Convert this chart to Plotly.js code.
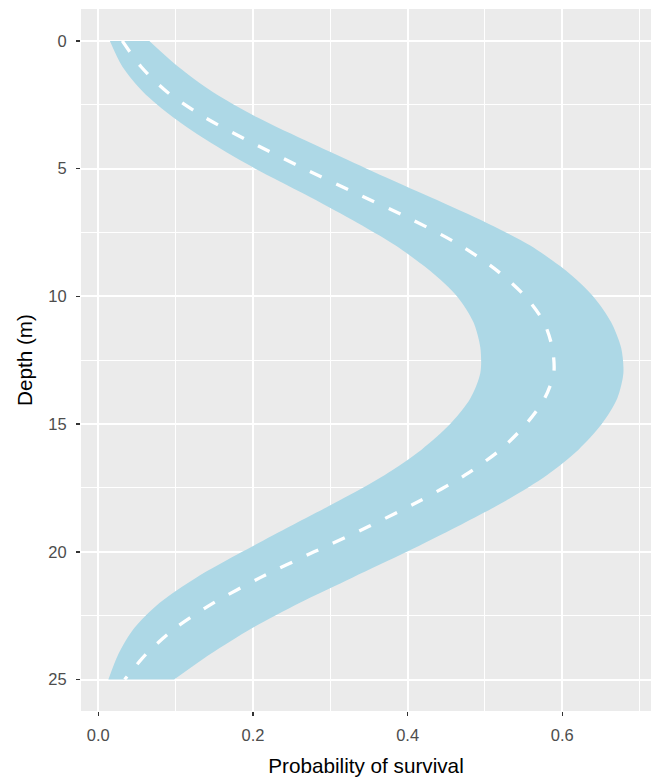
<!DOCTYPE html>
<html>
<head>
<meta charset="utf-8">
<script src="https://cdn.plot.ly/plotly-3.0.1.min.js"></script>
<style>
  html, body { margin: 0; padding: 0; background: #ffffff; }
  #chart { width: 651px; height: 779px; }
</style>
</head>
<body>
<div id="chart"></div>
<script>
// Depth in metres (reversed axis: surface at the top)
const depth = [0, 1, 2, 3, 4, 5, 6, 7, 8, 9, 10, 11, 12, 13, 14, 15, 16, 17, 18, 19, 20, 21, 22, 23, 24, 25];

// Mean predicted probability of survival at each depth
const survivalMean = [0.031, 0.055, 0.089, 0.138, 0.200, 0.266, 0.336, 0.406, 0.468, 0.516,
                      0.552, 0.576, 0.587, 0.589, 0.577, 0.553, 0.520, 0.474, 0.416, 0.350,
                      0.279, 0.210, 0.149, 0.099, 0.062, 0.034];

// Lower and upper bounds of the uncertainty band
const survivalLower = [0.015, 0.031, 0.058, 0.097, 0.146, 0.203, 0.267, 0.328, 0.384, 0.429,
                       0.464, 0.485, 0.494, 0.494, 0.481, 0.455, 0.418, 0.370, 0.311, 0.248,
                       0.186, 0.127, 0.079, 0.046, 0.026, 0.013];
const survivalUpper = [0.066, 0.103, 0.148, 0.206, 0.275, 0.347, 0.421, 0.494, 0.558, 0.605,
                       0.640, 0.663, 0.676, 0.679, 0.671, 0.651, 0.621, 0.580, 0.527, 0.465,
                       0.399, 0.329, 0.260, 0.198, 0.145, 0.098];

const FONT = "Liberation Sans, Arial, Helvetica, sans-serif";
const BAND = "#ADD8E6";

const traces = [
  {
    x: survivalUpper, y: depth, type: "scatter", mode: "lines",
    line: { width: 0, shape: "spline", smoothing: 0.8 },
    hoverinfo: "skip", showlegend: false
  },
  {
    x: survivalLower, y: depth, type: "scatter", mode: "lines",
    fill: "tonextx", fillcolor: BAND,
    line: { width: 0, shape: "spline", smoothing: 0.8 },
    hoverinfo: "skip", showlegend: false
  },
  {
    x: survivalMean, y: depth, type: "scatter", mode: "lines",
    line: { color: "#ffffff", width: 3.3, dash: "13px,16px", shape: "spline", smoothing: 0.8 },
    showlegend: false
  }
];

const axisCommon = {
  showgrid: true, gridcolor: "#ffffff", gridwidth: 2,
  zeroline: false, showline: false,
  ticks: "outside", ticklen: 4, tickwidth: 1.5, tickcolor: "#333333",
  tickfont: { family: FONT, size: 16.5, color: "#4D4D4D" },
  tickmode: "linear", tick0: 0
};

const layout = {
  width: 651, height: 779,
  margin: { l: 81, r: 0, t: 9, b: 68 },
  paper_bgcolor: "#ffffff",
  plot_bgcolor: "#EBEBEB",
  font: { family: FONT },
  showlegend: false,
  xaxis: Object.assign({}, axisCommon, {
    range: [-0.0224, 0.7147],
    dtick: 0.2, tickformat: ".1f",
    ticklabelstandoff: 5,
    minor: { dtick: 0.1, tick0: 0, showgrid: true, gridcolor: "#ffffff", gridwidth: 1, ticks: "" },
    title: { text: "Probability of survival", font: { family: FONT, size: 20.7, color: "#000000" }, standoff: 15 }
  }),
  yaxis: Object.assign({}, axisCommon, {
    range: [26.23, -1.25],
    dtick: 5,
    ticklabelstandoff: 6,
    minor: { dtick: 2.5, tick0: 0, showgrid: true, gridcolor: "#ffffff", gridwidth: 1, ticks: "" },
    title: { text: "Depth (m)", font: { family: FONT, size: 20.7, color: "#000000" }, standoff: 10 }
  })
};

Plotly.newPlot("chart", traces, layout, { staticPlot: true, displayModeBar: false });
</script>
</body>
</html>
